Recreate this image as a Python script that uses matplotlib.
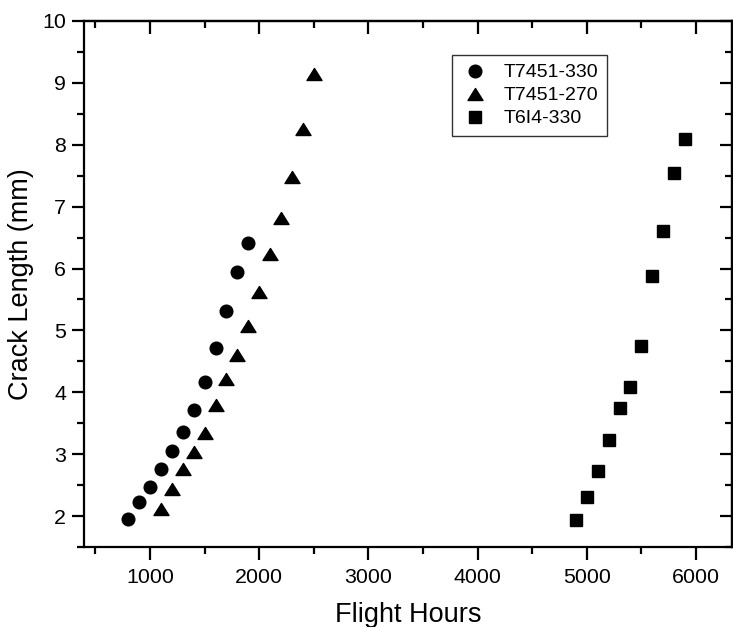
import matplotlib
matplotlib.use("Agg")
import matplotlib.pyplot as plt
from matplotlib.ticker import MultipleLocator, NullFormatter
from matplotlib.path import Path

plt.rcParams['font.family'] = ['Liberation Sans', 'DejaVu Sans']

# Data
hours_330 = [800, 900, 1000, 1100, 1200, 1300, 1400, 1500, 1600, 1700, 1800, 1900]
crack_330 = [1.96, 2.22, 2.47, 2.76, 3.05, 3.36, 3.72, 4.17, 4.72, 5.31, 5.95, 6.41]

hours_270 = [1100, 1200, 1300, 1400, 1500, 1600, 1700, 1800, 1900, 2000,
             2100, 2200, 2300, 2400, 2500]
crack_270 = [2.11, 2.44, 2.76, 3.03, 3.34, 3.80, 4.22, 4.60, 5.07, 5.62,
             6.23, 6.81, 7.48, 8.25, 9.14]

hours_t6 = [4900, 5000, 5100, 5200, 5300, 5400, 5500, 5600, 5700, 5800, 5900]
crack_t6 = [1.94, 2.31, 2.73, 3.23, 3.74, 4.09, 4.75, 5.88, 6.61, 7.54, 8.09]

labels = ["T7451-330", "T7451-270", "T6I4-330"]
x_ticks = [1000, 2000, 3000, 4000, 5000, 6000]
y_ticks = [2, 3, 4, 5, 6, 7, 8, 9, 10]

W, H = 733, 627
fig = plt.figure(figsize=(W / 100, H / 100), dpi=100)
ax = fig.add_axes([84 / W, 1 - 547 / H, (732 - 84) / W, (547 - 21) / H])

tri = Path([(0, 0.8), (-1, -0.8), (1, -0.8), (0, 0.8)],
           [Path.MOVETO, Path.LINETO, Path.LINETO, Path.CLOSEPOLY])

ax.plot(hours_330, crack_330, ls='none', marker='o', ms=9.1, color='black', label=labels[0])
ax.plot(hours_270, crack_270, ls='none', marker=tri, ms=10.8, color='black', label=labels[1])
ax.plot(hours_t6, crack_t6, ls='none', marker='s', ms=8.2, color='black', label=labels[2])

ax.set_xlim(395, 6330)
ax.set_ylim(1.5, 10)
ax.set_xticks(x_ticks)
ax.set_yticks(y_ticks)
ax.xaxis.set_minor_locator(MultipleLocator(500))
ax.yaxis.set_minor_locator(MultipleLocator(0.5))

for sp in ax.spines.values():
    sp.set_linewidth(1.6)

ax.tick_params(which='major', direction='out', length=9, width=1.6, labelsize=15.4,
               top=False, right=False)
ax.tick_params(which='minor', direction='out', length=5, width=1.6, top=False, right=False)
ax.tick_params(axis='x', which='major', pad=6)
ax.tick_params(axis='y', which='major', pad=4)

# mirrored axes with inward ticks
secx = ax.secondary_xaxis('top')
secx.set_xticks(x_ticks)
secx.xaxis.set_minor_locator(MultipleLocator(500))
secx.xaxis.set_major_formatter(NullFormatter())
secx.tick_params(which='major', direction='in', length=9, width=1.6)
secx.tick_params(which='minor', direction='in', length=5, width=1.6)
secx.spines['top'].set_linewidth(1.6)

secy = ax.secondary_yaxis('right')
secy.set_yticks(y_ticks)
secy.yaxis.set_minor_locator(MultipleLocator(0.5))
secy.yaxis.set_major_formatter(NullFormatter())
secy.tick_params(which='major', direction='in', length=9, width=1.6)
secy.tick_params(which='minor', direction='in', length=5, width=1.6)
secy.spines['right'].set_linewidth(1.6)

ax.set_xlabel("Flight Hours", fontsize=19.5, va='baseline')
ax.xaxis.set_label_coords(0.5, (547 - 622) / 526)
ax.set_ylabel("Crack Length (mm)", fontsize=19.5)
ax.yaxis.set_label_coords((34 - 84) / 648, 0.5)

leg = ax.legend(loc='upper left', bbox_to_anchor=(452 / W, 1 - 55 / H),
                bbox_transform=fig.transFigure, borderaxespad=0, fontsize=14,
                numpoints=1, handlelength=1.47, handletextpad=0.71, borderpad=0.45,
                labelspacing=0.28, fancybox=False, framealpha=1, edgecolor='#333333')
leg.get_frame().set_linewidth(1.0)

fig.savefig("out.png", dpi=100)
